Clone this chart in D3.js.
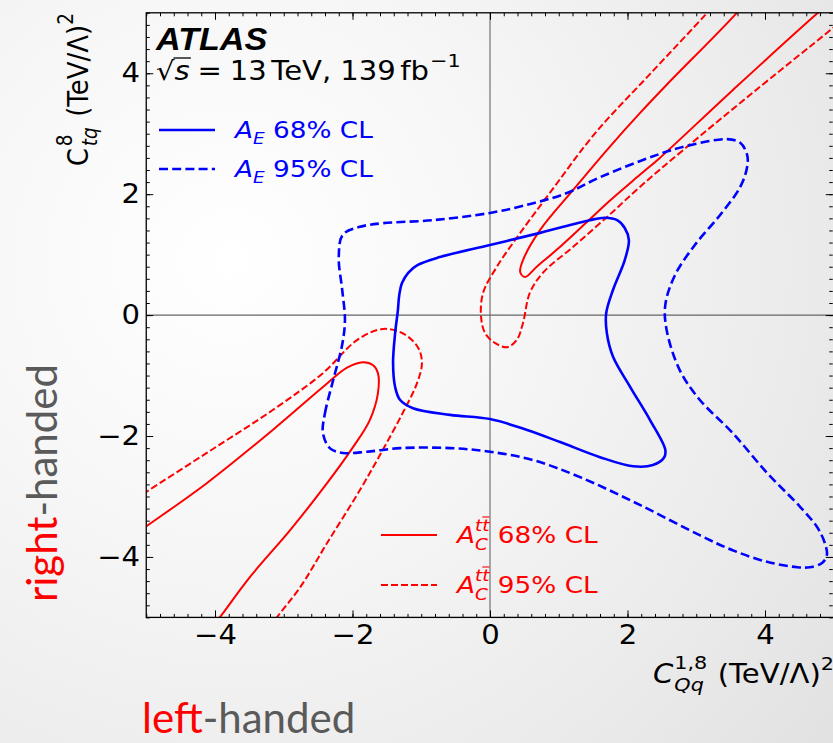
<!DOCTYPE html>
<html>
<head>
<meta charset="utf-8">
<script src="https://cdn.jsdelivr.net/npm/d3@7"></script>
<style>
  html, body { margin: 0; padding: 0; background: #fff; }
  svg { display: block; }
  svg text { white-space: pre; }
</style>
</head>
<body>
<svg id="chart" width="833" height="743"></svg>
<script>
// ---- Contour data (Wilson coefficients, (TeV/Λ)^2) ----
// A_E 68% CL contour (closed)
const aE68 = [
  [-1.38,-1.19],[-1.41,-0.79],[-1.38,-0.30],[-1.34,0.08],[-1.32,0.33],[-1.28,0.53],
  [-1.19,0.70],[-1.05,0.83],[-0.73,0.96],[0.00,1.16],[0.73,1.36],[1.45,1.57],
  [1.67,1.61],[1.85,1.57],[1.96,1.44],[2.02,1.24],[1.96,0.91],[1.79,0.42],
  [1.69,0.03],[1.70,-0.30],[1.79,-0.69],[2.04,-1.19],[2.33,-1.74],[2.55,-2.23],
  [2.53,-2.36],[2.37,-2.48],[2.08,-2.50],[1.60,-2.35],[1.02,-2.10],[0.54,-1.90],
  [0.00,-1.72],[-0.58,-1.65],[-1.12,-1.54],[-1.31,-1.40]
];
// A_E 95% CL contour (closed)
const aE95 = [
  [-2.43,-1.95],[-2.40,-1.62],[-2.28,-1.07],[-2.15,-0.49],[-2.11,-0.08],[-2.15,0.42],
  [-2.20,0.96],[-2.14,1.33],[-1.89,1.46],[-1.56,1.52],[-0.83,1.57],[0.00,1.69],
  [0.63,1.85],[1.12,2.02],[1.60,2.28],[2.43,2.65],[2.91,2.81],[3.45,2.91],
  [3.64,2.85],[3.74,2.65],[3.74,2.45],[3.64,2.12],[3.35,1.66],[2.98,1.16],
  [2.69,0.66],[2.55,0.17],[2.57,-0.25],[2.76,-0.91],[3.05,-1.40],[3.53,-1.95],
  [4.03,-2.61],[4.51,-3.17],[4.76,-3.51],[4.87,-3.77],[4.90,-3.97],[4.83,-4.10],
  [4.65,-4.17],[4.47,-4.17],[4.03,-4.08],[3.53,-3.89],[3.05,-3.64],[2.18,-3.14],
  [1.31,-2.68],[0.63,-2.40],[0.00,-2.26],[-0.58,-2.20],[-1.31,-2.20],[-1.79,-2.26],
  [-2.14,-2.28],[-2.33,-2.20]
];
// A_C^tt 68% CL contour: two open branches leaving the frame
const aC68Upper = [
  [3.93,5.46],[3.59,5.00],[2.57,3.81],[2.18,3.34],[1.70,2.73],[1.21,2.07],
  [0.73,1.41],[0.48,0.91],[0.44,0.71],[0.51,0.63],[0.68,0.80],[0.97,1.08],
  [1.41,1.54],[1.75,1.90],[2.18,2.32],[2.47,2.60],[3.53,3.72],[4.77,5.00],[5.25,5.46]
];
const aC68Lower = [
  [-5.53,-3.92],[-5.02,-3.51],[-4.12,-2.78],[-3.16,-1.90],[-2.43,-1.19],[-2.08,-0.87],
  [-1.85,-0.78],[-1.70,-0.83],[-1.63,-0.96],[-1.63,-1.29],[-1.75,-1.74],[-1.99,-2.18],
  [-2.37,-2.78],[-2.91,-3.56],[-3.49,-4.33],[-3.93,-5.00],[-4.29,-5.54]
];
// A_C^tt 95% CL contour: two open branches leaving the frame
const aC95Upper = [
  [3.52,5.46],[3.16,5.00],[2.33,3.99],[1.53,3.01],[0.87,2.02],[0.44,1.36],
  [0.10,0.80],[-0.10,0.37],[-0.13,-0.03],[-0.07,-0.30],[0.07,-0.46],[0.25,-0.53],
  [0.39,-0.41],[0.48,-0.13],[0.58,0.37],[0.77,0.70],[1.21,1.13],[1.70,1.62],
  [2.18,2.12],[2.81,2.73],[3.78,3.64],[4.99,4.75],[5.53,5.25]
];
const aC95Lower = [
  [-5.53,-3.33],[-5.02,-2.94],[-4.12,-2.28],[-3.16,-1.57],[-2.43,-0.96],[-1.93,-0.41],
  [-1.56,-0.23],[-1.27,-0.30],[-1.05,-0.53],[-0.99,-0.79],[-1.06,-1.12],[-1.27,-1.62],
  [-1.56,-2.23],[-1.89,-2.89],[-2.37,-3.77],[-2.76,-4.50],[-3.10,-5.00],[-3.39,-5.46]
];

const xDomain = [-5, 5];
const yDomain = [-5, 5];
const majorTicks = [-4, -2, 0, 2, 4];
const minorTicks = d3.range(-50, 51, 2).map(v => v / 10);

// ---- Layout ----
const svg = d3.select("#chart");
const W = 833, H = 743;
const plot = { left: 146.25, right: 833.75, top: 12.8, bottom: 617.4 };
const SX = 1.12;   // figure text is slightly wider than tall on this slide

const x = d3.scaleLinear().domain(xDomain).range([plot.left, plot.right]);
const y = d3.scaleLinear().domain(yDomain).range([plot.bottom, plot.top]);

const BLUE = "#0000ff", RED = "#ff0000";
const FONT = "'DejaVu Sans', sans-serif";

// slide background
const defs = svg.append("defs");
const bg = defs.append("radialGradient").attr("id", "bg")
  .attr("gradientUnits", "userSpaceOnUse")
  .attr("cx", 230).attr("cy", 260).attr("r", 760);
bg.append("stop").attr("offset", 0).attr("stop-color", "#ffffff");
bg.append("stop").attr("offset", 0.35).attr("stop-color", "#f7f7f7");
bg.append("stop").attr("offset", 0.75).attr("stop-color", "#ebebeb");
bg.append("stop").attr("offset", 1).attr("stop-color", "#e2e2e2");
svg.append("rect").attr("width", W).attr("height", H).attr("fill", "url(#bg)");

defs.append("clipPath").attr("id", "plotClip").append("rect")
  .attr("x", plot.left).attr("y", plot.top)
  .attr("width", plot.right - plot.left).attr("height", plot.bottom - plot.top);

// zero lines
const zero = svg.append("g").attr("stroke", "#666").attr("stroke-width", 1.1);
zero.append("line").attr("x1", x(0)).attr("x2", x(0)).attr("y1", plot.top).attr("y2", plot.bottom);
zero.append("line").attr("x1", plot.left).attr("x2", plot.right).attr("y1", y(0)).attr("y2", y(0));

// contours
const closedLine = d3.line().x(d => x(d[0])).y(d => y(d[1])).curve(d3.curveCatmullRomClosed.alpha(0.5));
const openLine = d3.line().x(d => x(d[0])).y(d => y(d[1])).curve(d3.curveCatmullRom.alpha(0.5));

const curves = svg.append("g").attr("clip-path", "url(#plotClip)").attr("fill", "none")
  .attr("stroke-linejoin", "round");

const contours = [
  { data: aC95Upper, gen: openLine, color: RED, w: 2, dash: "7,3" },
  { data: aC95Lower, gen: openLine, color: RED, w: 2, dash: "7,3" },
  { data: aC68Upper, gen: openLine, color: RED, w: 2, dash: null },
  { data: aC68Lower, gen: openLine, color: RED, w: 2, dash: null },
  { data: aE95, gen: closedLine, color: BLUE, w: 2.6, dash: "9,4.2" },
  { data: aE68, gen: closedLine, color: BLUE, w: 2.6, dash: null }
];
contours.forEach(c => {
  curves.append("path").attr("d", c.gen(c.data))
    .attr("stroke", c.color).attr("stroke-width", c.w)
    .attr("stroke-dasharray", c.dash);
});

// axes: ticks point inward on all four sides
function styleAxis(g) {
  g.select(".domain").remove();
  g.selectAll(".tick line").attr("stroke", "#000").attr("stroke-width", 1);
  g.selectAll(".tick text").attr("font-family", FONT).attr("font-size", 26).attr("fill", "#000")
    .attr("transform", `scale(${SX},1)`);
}
const fmt = d => d < 0 ? "\u2212" + Math.abs(d) : String(d);

svg.append("g").attr("transform", `translate(0,${plot.bottom})`)
  .call(d3.axisBottom(x).tickValues(majorTicks).tickSize(-7).tickPadding(8).tickFormat(fmt)).call(styleAxis);
svg.append("g").attr("transform", `translate(0,${plot.bottom})`)
  .call(d3.axisBottom(x).tickValues(minorTicks).tickSize(-3.5).tickFormat("")).call(styleAxis);
svg.append("g").attr("transform", `translate(0,${plot.top})`)
  .call(d3.axisTop(x).tickValues(majorTicks).tickSize(-7).tickFormat("")).call(styleAxis);
svg.append("g").attr("transform", `translate(0,${plot.top})`)
  .call(d3.axisTop(x).tickValues(minorTicks).tickSize(-3.5).tickFormat("")).call(styleAxis);
svg.append("g").attr("transform", `translate(${plot.left},0)`)
  .call(d3.axisLeft(y).tickValues(majorTicks).tickSize(-7).tickPadding(5.5).tickFormat(fmt)).call(styleAxis);
svg.append("g").attr("transform", `translate(${plot.left},0)`)
  .call(d3.axisLeft(y).tickValues(minorTicks).tickSize(-3.5).tickFormat("")).call(styleAxis);
svg.append("g").attr("transform", `translate(${plot.right - 1},0)`)
  .call(d3.axisRight(y).tickValues(majorTicks).tickSize(-7).tickFormat("")).call(styleAxis);
svg.append("g").attr("transform", `translate(${plot.right - 1},0)`)
  .call(d3.axisRight(y).tickValues(minorTicks).tickSize(-3.5).tickFormat("")).call(styleAxis);

// frame
svg.append("rect").attr("x", plot.left).attr("y", plot.top)
  .attr("width", plot.right - plot.left).attr("height", plot.bottom - plot.top)
  .attr("fill", "none").attr("stroke", "#000").attr("stroke-width", 1.3);

// ---- math-style text: pieces laid out left to right, sup/sub pairs stacked ----
function mathText(g, parts, color) {
  let cursor = 0, groupStart = 0, groupEnd = 0;
  parts.forEach(p => {
    const startX = (p.stack ? groupStart : cursor) + (p.dx || 0);
    const t = g.append("text")
      .attr("x", startX).attr("y", p.dy || 0)
      .attr("font-family", p.family || FONT)
      .attr("font-size", p.size)
      .attr("font-style", p.italic ? "italic" : "normal")
      .attr("fill", color)
      .text(p.t);
    const w = t.node().getComputedTextLength();
    const end = startX + w;
    if (p.stack) {
      groupEnd = Math.max(groupEnd, end);
      cursor = groupEnd;
    } else {
      groupStart = startX;
      groupEnd = end;
      cursor = end;
    }
    if (p.bar) {
      g.append("line").attr("x1", startX + p.bar[0]).attr("x2", end + p.bar[1])
        .attr("y1", p.bar[2]).attr("y2", p.bar[2])
        .attr("stroke", color).attr("stroke-width", p.bar[3] || 1.2);
    }
  });
  return cursor;
}

// x-axis label
{
  const g = svg.append("g");
  const w = mathText(g, [
    { t: "C", size: 26, italic: true },
    { t: "1,8", size: 18.5, dy: -14, dx: 1 },
    { t: "Qq", size: 18.5, italic: true, dy: 8, stack: true },
    { t: " (TeV/\u039B)", size: 26, dx: 1 },
    { t: "2", size: 18.5, dy: -13 }
  ], "#000");
  g.attr("transform", `translate(${834 - w * SX},683) scale(${SX},1)`);
}

// y-axis label (rotated, aligned to the top of the frame)
{
  const g = svg.append("g");
  const w = mathText(g, [
    { t: "C", size: 26 },
    { t: "8", size: 18.5, dy: -14, dx: 2 },
    { t: "tq", size: 18.5, italic: true, dy: 8, stack: true },
    { t: " (TeV/\u039B)", size: 26, dx: 2 },
    { t: "2", size: 18.5, dy: -13 }
  ], "#000");
  g.attr("transform", `translate(88,${13 + w}) scale(${SX},1) rotate(-90)`);
}

// experiment label
svg.append("text").attr("transform", `translate(156,50) scale(${SX},1)`)
  .attr("font-family", "'Liberation Sans', Arial, sans-serif")
  .attr("font-size", 30.5).attr("font-weight", "bold").attr("font-style", "italic")
  .attr("fill", "#000").text("ATLAS");
{
  const g = svg.append("g").attr("transform", `translate(156,80) scale(${SX},1)`);
  mathText(g, [
    { t: "\u221A", size: 26 },
    { t: "s", size: 26, italic: true, bar: [-1, 1, -22, 1.3] },
    { t: "=", size: 26, dx: 7 },
    { t: "13", size: 26, dx: 7 },
    { t: "TeV,", size: 26, dx: 4 },
    { t: "139", size: 26, dx: 8 },
    { t: "fb", size: 26, dx: 4 },
    { t: "\u22121", size: 18.5, dy: -13, dx: 1 }
  ], "#000");
}

// legends
function legendEntry(x0, yLine, color, dash, width, labelParts) {
  svg.append("line").attr("x1", x0).attr("x2", x0 + 56).attr("y1", yLine).attr("y2", yLine)
    .attr("stroke", color).attr("stroke-width", width).attr("stroke-dasharray", dash);
  const g = svg.append("g").attr("transform", `translate(${x0 + 76},${yLine + 8}) scale(${SX},1)`);
  mathText(g, labelParts, color);
}
const aELabel = cl => [
  { t: "A", size: 23.5, italic: true },
  { t: "E", size: 16.5, italic: true, dy: 6 },
  { t: " " + cl + " CL", size: 23.5 }
];
const aCLabel = cl => [
  { t: "A", size: 23.5, italic: true },
  { t: "tt", size: 16.5, italic: true, dy: -12, bar: [6.5, 0, -26, 1.1] },
  { t: "C", size: 16.5, italic: true, dy: 7, stack: true },
  { t: " " + cl + " CL", size: 23.5 }
];
legendEntry(159, 130, BLUE, null, 2.6, aELabel("68%"));
legendEntry(159, 169, BLUE, "9,4.2", 2.6, aELabel("95%"));
legendEntry(381, 535, RED, null, 2, aCLabel("68%"));
legendEntry(381, 585, RED, "7,3", 2, aCLabel("95%"));

// slide annotations
const SLIDE_FONT = "Lato, 'Open Sans', sans-serif";
{
  const t = svg.append("text")
    .attr("transform", "translate(57,602) rotate(-90)")
    .attr("font-family", SLIDE_FONT).attr("font-size", 42);
  t.append("tspan").attr("fill", RED).text("right");
  t.append("tspan").attr("fill", "#5a5a5a").text("-handed");
}
{
  const t = svg.append("text").attr("x", 142).attr("y", 733)
    .attr("font-family", SLIDE_FONT).attr("font-size", 42);
  t.append("tspan").attr("fill", RED).text("left");
  t.append("tspan").attr("fill", "#5a5a5a").text("-handed");
}
</script>
</body>
</html>
